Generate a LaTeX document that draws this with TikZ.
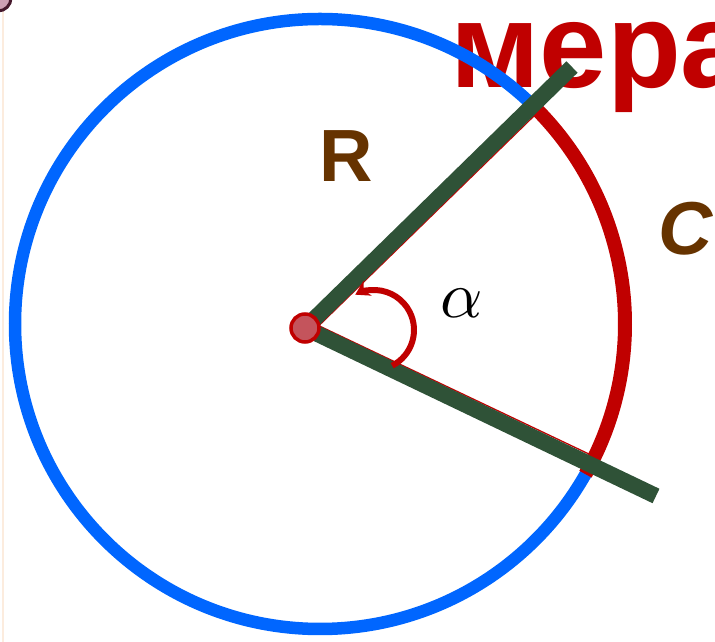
\documentclass[tikz,border=0pt]{standalone}
\usepackage{amsmath}
\usepackage{graphicx}
\usepackage{fontspec}
\newfontfamily\labelfont{Liberation Sans}
\usepackage{tikz}
\usetikzlibrary{arrows.meta, calc}
\definecolor{ringblue}{RGB}{0,102,255}
\definecolor{arcred}{RGB}{192,0,0}
\definecolor{raygreen}{RGB}{47,82,55}
\definecolor{labelbrown}{RGB}{102,51,0}
\definecolor{dotfill}{RGB}{196,84,92}
\definecolor{edgepeach}{RGB}{252,236,222}
\definecolor{cornerink}{RGB}{70,25,45}
\definecolor{cornerfill}{RGB}{205,160,180}

\begin{document}
\begin{tikzpicture}[x=1pt, y=1pt]
  \useasboundingbox (0,0) rectangle (715,642);
  % page edge and corner
  \draw[edgepeach, line width=2] (2.5,0) -- (2.5,642);
  \filldraw[fill=cornerfill, draw=cornerink, line width=3] (-2,644) circle (13);
  % Heading, cut by the edge
  \node[arcred, anchor=base west, inner sep=0, font=\labelfont\bfseries\fontsize{121}{121}\selectfont] (word) at (450,554) {мера};
  % Circle and the arc C
  \coordinate (M) at (320,318);
  \coordinate (O) at (305,314);
  \coordinate (A) at (572,575);
  \coordinate (B) at (656,146);
  \coordinate (T1) at ([shift={(M)}]45.7:305);
  \coordinate (T2) at ([shift={(M)}]-27.3:305);
  \draw[ringblue, line width=12.5] (M) circle (305);
  \draw[arcred, line width=14] ([shift={(M)}]-29.5:305) arc (-29.5:47:305);
  % Sector sides
  \draw[arcred, line width=1.3] ($(O)!8pt!-90:(A)$) -- ($(T1)!8pt!90:(O)$);
  \draw[arcred, line width=1.3] ($(O)!8pt!90:(B)$) -- ($(T2)!8pt!-90:(O)$);
  % Rays
  \draw[raygreen, line width=16] (O) -- (A);
  \draw[raygreen, line width=16] (O) -- (B);
  % Angle arrow
  \draw[arcred, line width=6, -{Stealth[length=14pt, width=17pt]}] ([shift={(374,312)}]-63:40) arc (-63:118:40);
  \filldraw[fill=dotfill, draw=arcred, line width=3.5] (O) circle (14);
  % Labels
  \node[labelbrown, inner sep=0, font=\labelfont\bfseries\fontsize{74}{74}\selectfont] (radius) at (346,485.5) {R};
  \node[labelbrown, inner sep=0, font=\labelfont\bfseries\itshape\fontsize{75}{75}\selectfont] (length) at (686,413) {C};
  \node[inner sep=0] (angle) at (462,339) {\scalebox{6.6}{$\alpha$}};
\end{tikzpicture}
\end{document}
